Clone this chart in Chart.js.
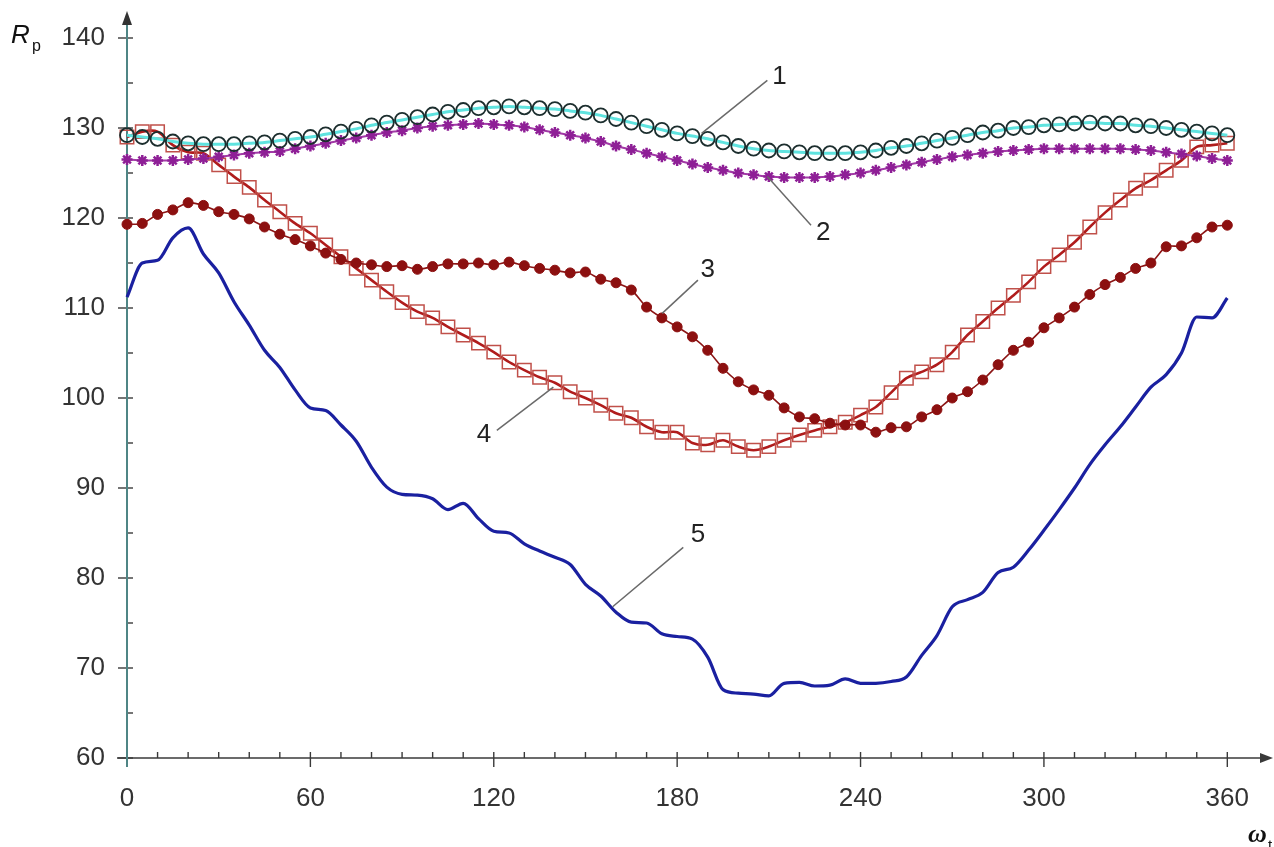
<!DOCTYPE html>
<html><head><meta charset="utf-8">
<script src="https://cdn.jsdelivr.net/npm/chart.js@4.4.1/dist/chart.umd.min.js"></script>
<style>html,body{margin:0;padding:0;background:#fff}#wrap{position:relative;width:1274px;height:847px}</style>
</head><body><div id="wrap"><canvas id="c" width="1274" height="847"></canvas></div>
<script>
// ---- data ----
const angles = [0,5,10,15,20,25,30,35,40,45,50,55,60,65,70,75,80,85,90,95,100,105,110,115,120,125,130,135,140,145,150,155,160,165,170,175,180,185,190,195,200,205,210,215,220,225,230,235,240,245,250,255,260,265,270,275,280,285,290,295,300,305,310,315,320,325,330,335,340,345,350,355,360];

const series1 = [129.2,129.0,128.8,128.5,128.3,128.2,128.2,128.2,128.3,128.4,128.6,128.8,129.0,129.3,129.6,129.9,130.3,130.6,130.9,131.2,131.5,131.8,132.0,132.2,132.3,132.4,132.3,132.2,132.1,131.9,131.7,131.4,131.0,130.6,130.2,129.8,129.4,129.1,128.8,128.4,128.0,127.7,127.5,127.4,127.3,127.2,127.2,127.2,127.3,127.5,127.8,128.0,128.3,128.6,128.9,129.2,129.5,129.7,130.0,130.1,130.3,130.4,130.5,130.6,130.5,130.5,130.3,130.2,130.0,129.8,129.6,129.4,129.2];

const series2 = [126.5,126.4,126.4,126.4,126.5,126.6,126.8,127.0,127.2,127.3,127.4,127.7,128.0,128.3,128.6,128.9,129.2,129.5,129.7,130.0,130.2,130.3,130.4,130.5,130.4,130.3,130.1,129.8,129.5,129.2,128.9,128.5,128.0,127.6,127.2,126.8,126.4,126.0,125.6,125.3,125.0,124.8,124.6,124.5,124.5,124.5,124.6,124.8,125.0,125.3,125.6,125.9,126.2,126.5,126.8,127.0,127.2,127.4,127.5,127.6,127.7,127.7,127.7,127.7,127.7,127.7,127.6,127.5,127.3,127.1,126.9,126.6,126.4];

const series3 = [119.3,119.4,120.4,120.9,121.7,121.4,120.7,120.4,119.9,119.0,118.2,117.6,116.9,116.1,115.4,115.0,114.8,114.6,114.7,114.3,114.6,114.9,114.9,115.0,114.8,115.1,114.7,114.4,114.2,113.9,114.0,113.2,112.8,112.0,110.1,108.9,107.9,106.8,105.3,103.3,101.8,100.9,100.3,98.9,97.9,97.7,97.2,97.0,97.0,96.2,96.7,96.8,97.9,98.7,100.0,100.7,102.0,103.7,105.3,106.2,107.8,108.9,110.1,111.5,112.6,113.4,114.4,115.0,116.8,116.9,117.8,119.0,119.2];

const series4 = [129.0,129.6,129.6,128.1,127.3,127.2,125.9,124.6,123.4,122.0,120.7,119.4,118.3,117.0,115.7,114.4,113.1,111.8,110.6,109.6,108.9,107.9,107.0,106.1,105.1,104.0,103.1,102.3,101.7,100.7,100.0,99.2,98.3,97.8,96.8,96.2,96.2,95.0,94.8,95.3,94.6,94.2,94.6,95.3,95.9,96.4,96.8,97.3,98.1,99.0,100.6,102.2,102.9,103.7,105.1,107.0,108.5,110.0,111.4,112.9,114.6,115.9,117.3,119.0,120.6,122.0,123.3,124.2,125.3,126.4,127.9,128.1,128.3];

const series5 = [111.2,115.0,115.3,117.8,118.9,116.0,113.9,110.7,108.1,105.3,103.4,100.9,98.9,98.6,97.0,95.2,92.3,90.1,89.3,89.2,88.8,87.6,88.3,86.6,85.2,85.0,83.8,83.0,82.3,81.5,79.3,78.0,76.2,75.1,75.0,73.8,73.5,73.2,71.2,67.6,67.2,67.1,66.9,68.3,68.4,68.0,68.1,68.8,68.3,68.3,68.5,69.0,71.4,73.6,76.8,77.6,78.4,80.6,81.2,83.1,85.3,87.6,90.0,92.6,94.8,96.8,99.0,101.2,102.6,105.0,109.0,108.9,111.1];

const xTickLabels = [0,60,120,180,240,300,360];
const yTickLabels = [60,70,80,90,100,110,120,130,140];

// curve labels: text, label position, leader line start, leader line end (data units)
const curveLabels = ['1','2','3','4','5'];
const labelPos = [[213.5,135.7],[227.8,118.3],[190,114.2],[116.8,95.9],[186.8,84.8]];
const leaderFrom = [[209.5,135.3],[223.8,119.2],[186.8,113.1],[121,96.4],[182,83.4]];
const leaderTo = [[188,129.4],[209.5,124.6],[175.1,109.4],[139.5,101.2],[158.9,76.8]];

// ---- chart ----
const pts = arr => arr.map((v,i)=>({x:angles[i], y:v}));

const axesPlugin = {
  id:'axes',
  beforeDatasetsDraw(chart){
    const {ctx, scales:{x,y}} = chart;
    const x0 = x.getPixelForValue(xTickLabels[0]);
    const yb = y.getPixelForValue(yTickLabels[0]);
    ctx.save();
    // x axis
    ctx.strokeStyle='#3a3a3a'; ctx.lineWidth=1.6;
    ctx.beginPath(); ctx.moveTo(x0-10,yb); ctx.lineTo(1266,yb); ctx.stroke();
    ctx.fillStyle='#3a3a3a';
    ctx.beginPath(); ctx.moveTo(1273,yb); ctx.lineTo(1260,yb-5); ctx.lineTo(1260,yb+5); ctx.closePath(); ctx.fill();
    // x ticks
    ctx.lineWidth=1.4;
    for(let v=0; v<=360; v+=10){
      const px = x.getPixelForValue(v);
      ctx.beginPath();
      if(v%60===0){ ctx.moveTo(px,yb-6); ctx.lineTo(px,yb+9);} else { ctx.moveTo(px,yb-6); ctx.lineTo(px,yb);}
      ctx.stroke();
    }
    // y ticks
    for(let v=60; v<=140; v+=5){
      const py = y.getPixelForValue(v);
      ctx.beginPath();
      if(v%10===0){ ctx.moveTo(x0-9,py); ctx.lineTo(x0+6,py);} else { ctx.moveTo(x0,py); ctx.lineTo(x0+6,py);}
      ctx.stroke();
    }
    // y axis
    ctx.strokeStyle='#4f8585'; ctx.lineWidth=2;
    ctx.beginPath(); ctx.moveTo(x0,yb+9); ctx.lineTo(x0,20); ctx.stroke();
    ctx.fillStyle='#333';
    ctx.beginPath(); ctx.moveTo(x0,11); ctx.lineTo(x0-5,25); ctx.lineTo(x0+5,25); ctx.closePath(); ctx.fill();
    ctx.restore();
  },
  afterDatasetsDraw(chart){
    const {ctx, scales:{x,y}} = chart;
    ctx.save();
    // leaders and labels
    ctx.strokeStyle='#6a6a6a'; ctx.lineWidth=1.5;
    ctx.fillStyle='#222'; ctx.font='26px "Liberation Sans", Arial, sans-serif';
    ctx.textAlign='center'; ctx.textBaseline='middle';
    curveLabels.forEach((t,i)=>{
      ctx.beginPath();
      ctx.moveTo(x.getPixelForValue(leaderFrom[i][0]), y.getPixelForValue(leaderFrom[i][1]));
      ctx.lineTo(x.getPixelForValue(leaderTo[i][0]), y.getPixelForValue(leaderTo[i][1]));
      ctx.stroke();
      ctx.fillText(t, x.getPixelForValue(labelPos[i][0]), y.getPixelForValue(labelPos[i][1]));
    });
    // axis titles
    ctx.textAlign='left'; ctx.textBaseline='alphabetic';
    ctx.fillStyle='#111';
    ctx.font='italic 26px "Liberation Sans", Arial, sans-serif';
    ctx.fillText('R', 11, 43);
    ctx.font='16px "Liberation Sans", Arial, sans-serif';
    ctx.fillText('p', 32, 51);
    ctx.font='bold italic 26px "Liberation Serif", "Times New Roman", serif';
    ctx.fillText('ω', 1248, 842);
    ctx.font='15px "Liberation Sans", Arial, sans-serif';
    ctx.fillText('t', 1268, 850);
    ctx.restore();
  }
};

new Chart(document.getElementById('c'), {
  type:'line',
  data:{ datasets:[
    {label:'1', data:pts(series1), borderColor:'#5fe3df', borderWidth:3, pointStyle:'circle', pointRadius:7, pointBorderColor:'#1c2e2e', pointBorderWidth:1.8, pointBackgroundColor:'rgba(0,0,0,0)', tension:0.3, clip:false},
    {label:'2', data:pts(series2), borderColor:'#a23aa6', borderWidth:2, pointStyle:'star', pointRadius:5.5, pointBorderColor:'#8e1f96', pointBorderWidth:2.5, pointBackgroundColor:'#8e1f96', tension:0.3, clip:false},
    {label:'3', data:pts(series3), borderColor:'#8c1515', borderWidth:1.6, pointStyle:'circle', pointRadius:5, pointBorderColor:'#8c1010', pointBorderWidth:1, pointBackgroundColor:'#8c1010', tension:0.3, clip:false},
    {label:'4', data:pts(series4), borderColor:'#b01c1c', borderWidth:2.6, pointStyle:'rect', pointRadius:9.5, pointBorderColor:'#c0504a', pointBorderWidth:1.5, pointBackgroundColor:'rgba(0,0,0,0)', tension:0.3, clip:false},
    {label:'5', data:pts(series5), borderColor:'#1a20a0', borderWidth:3.2, pointRadius:0, tension:0.4, cubicInterpolationMode:'monotone', clip:false}
  ]},
  options:{
    responsive:false, animation:false, devicePixelRatio:1,
    layout:{padding:{left:0,right:37,top:38,bottom:0}},
    plugins:{legend:{display:false}, tooltip:{enabled:false}},
    scales:{
      x:{type:'linear', min:0, max:360,
        afterFit:s=>{s.height=89;},
        afterBuildTicks:s=>{s.ticks = xTickLabels.map(v=>({value:v}));},
        grid:{display:false, drawTicks:false}, border:{display:false},
        ticks:{color:'#333', font:{family:'"Liberation Sans", Arial, sans-serif', size:26}, padding:25, maxRotation:0, autoSkip:false}},
      y:{type:'linear', min:60, max:140,
        afterFit:s=>{s.width=127;},
        afterBuildTicks:s=>{s.ticks = yTickLabels.map(v=>({value:v}));},
        grid:{display:false, drawTicks:false}, border:{display:false},
        ticks:{color:'#333', font:{family:'"Liberation Sans", Arial, sans-serif', size:26}, padding:22, autoSkip:false}}
    }
  },
  plugins:[axesPlugin]
});
</script></body></html>
